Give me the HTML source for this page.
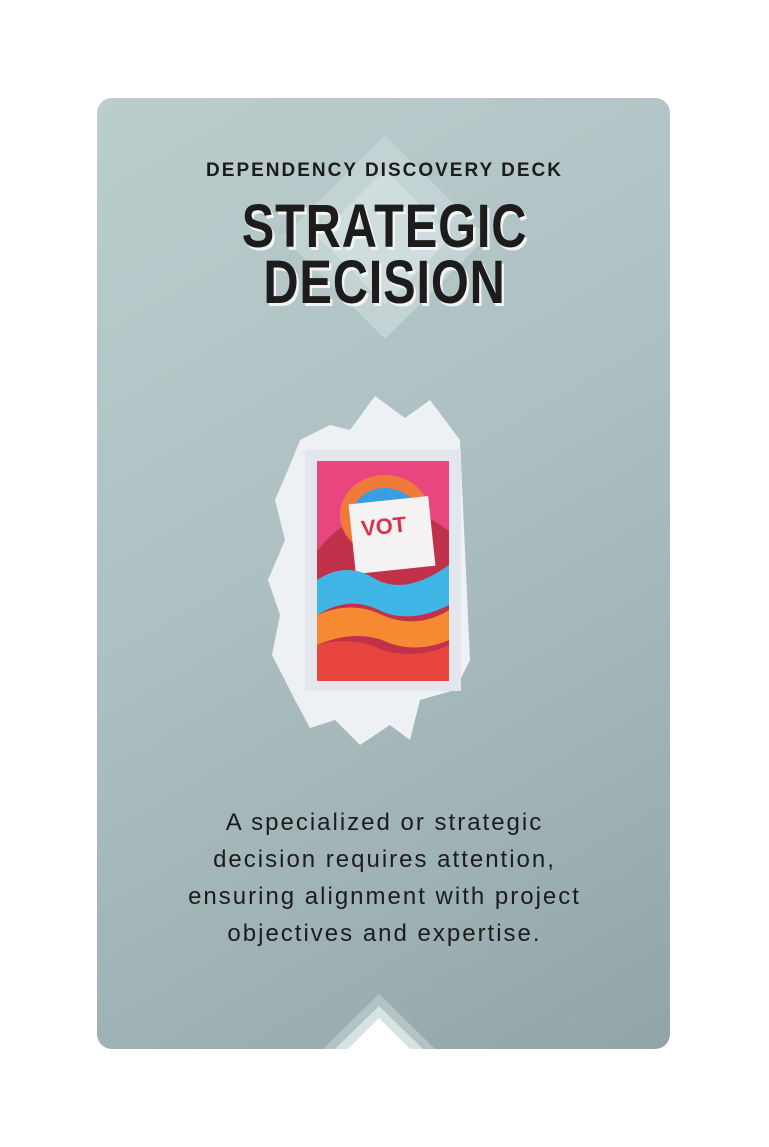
<!DOCTYPE html>
<html><head><meta charset="utf-8"><style>
html,body{margin:0;padding:0;background:#fff;width:769px;height:1147px;overflow:hidden}
#card{position:absolute;left:97px;top:98px;width:573px;height:951px;border-radius:15px;overflow:hidden;
background:linear-gradient(150deg,#bccdcd 0%,#adbfc1 45%,#9cafb2 80%,#91a4a7 100%)}
.t{position:absolute;left:0;width:769px;text-align:center;font-family:"Liberation Sans",sans-serif;color:#1c1c1c}
</style></head><body>
<div id="card"></div>
<svg width="769" height="1147" style="position:absolute;left:0;top:0">
<polygon points="385,135 487,237 385,339 283,237" fill="#c3d3d4"/>
<polygon points="385,170 452,237 385,304 318,237" fill="#d3e0e0" opacity="0.8"/>
<polygon points="379,994 435,1049 323,1049" fill="#b3c3c5"/>
<polygon points="379,1006 423,1049 335,1049" fill="#d7e3e3"/>
<polygon points="379,1018 410,1049 348,1049" fill="#ffffff"/>
<g>
<polygon points="300,440 290,465 275,500 285,540 268,580 280,615 272,655 295,700 310,728 335,720 360,745 390,725 410,740 420,700 455,690 470,660 460,440 430,400 405,418 375,396 350,430 330,425" fill="#eef1f3"/>
<rect x="305" y="450" width="156" height="241" fill="#e3e6ec"/>
<rect x="317" y="461" width="132" height="220" fill="#c2314a"/>
<path d="M317,461 h132 v70 q-40,-30 -70,-20 q-40,10 -62,40z" fill="#e9467f"/>
<ellipse cx="385" cy="515" rx="45" ry="40" fill="#f07a3a"/>
<ellipse cx="385" cy="518" rx="34" ry="30" fill="#3a9fe0"/>
<rect x="352" y="500" width="80" height="70" fill="#f4f2f2" transform="rotate(-6 392 535)"/>
<text x="362" y="533" font-family="Liberation Sans,sans-serif" font-weight="bold" font-size="22" fill="#d9324f" transform="rotate(-6 392 535)">VOT</text>
<path d="M317,580 q30,-20 60,0 q30,15 72,-15 v40 q-40,20 -70,5 q-30,-15 -62,5z" fill="#3fb6e6"/>
<path d="M317,615 q35,-15 65,0 q35,15 67,-5 v30 q-35,15 -67,0 q-30,-10 -65,5z" fill="#f58a32"/>
<path d="M317,645 q35,-10 65,5 q35,10 67,-5 v36 h-132z" fill="#e8453e"/>
</g>
</svg>
<div class="t" style="top:160px;font-size:19px;font-weight:bold;letter-spacing:2px">DEPENDENCY DISCOVERY DECK</div>
<div class="t" style="top:198px;font-size:61px;line-height:56px;font-weight:bold;text-shadow:3px 3px 0 #f2f4f4;transform:scaleX(0.8);letter-spacing:1px">STRATEGIC<br>DECISION</div>
<div class="t" style="top:804px;font-size:24px;line-height:37px;letter-spacing:2px">A specialized or strategic<br>decision requires attention,<br>ensuring alignment with project<br>objectives and expertise.</div>
</body></html>
